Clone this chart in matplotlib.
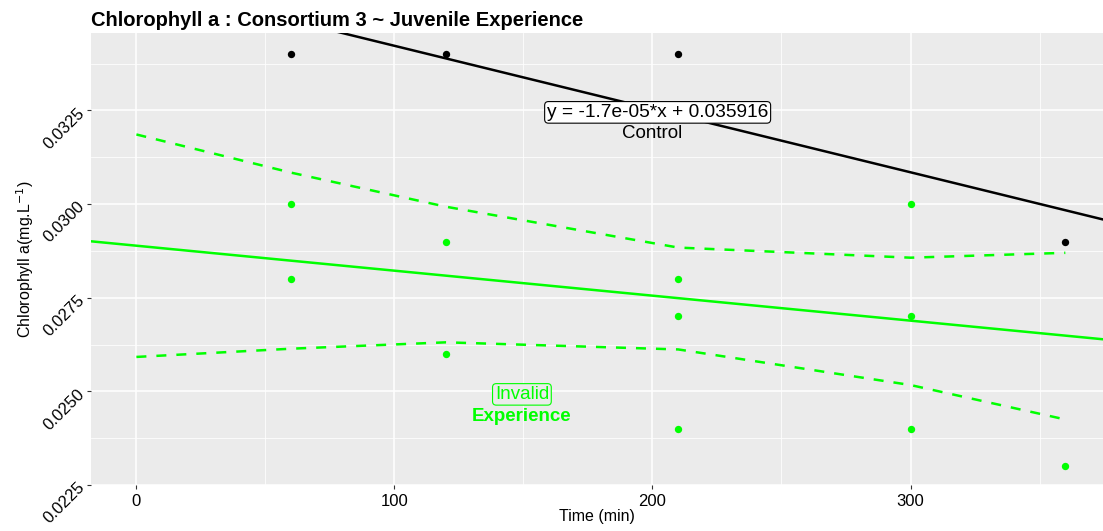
import numpy as np
import matplotlib

matplotlib.use("Agg")
import matplotlib.pyplot as plt  # noqa: E402
from matplotlib.ticker import MultipleLocator  # noqa: E402

plt.rcParams["font.family"] = ["Liberation Sans", "DejaVu Sans"]

# Control group (black)
control_time = [60, 120, 210, 360]
control_chl = [0.034, 0.034, 0.034, 0.029]

# Experience group (green)
exp_time = [60, 60, 120, 120, 210, 210, 210, 300, 300, 300, 360]
exp_chl = [0.030, 0.028, 0.029, 0.026, 0.028, 0.027, 0.024, 0.030, 0.027, 0.024, 0.023]

# Experience trend line and band
exp_intercept = 0.02889
exp_slope = -6.67e-06
band_time = [0, 60, 120, 210, 300, 360]
band_upper = [0.03186, 0.03084, 0.02993, 0.02884, 0.02857, 0.02870]
band_lower = [0.02592, 0.02614, 0.02631, 0.02612, 0.02517, 0.02425]

GREEN = "#00FF00"

fig = plt.figure(figsize=(11.03, 5.31), dpi=100)
ax = fig.add_axes([0.0825, 0.0866, 0.9175, 0.8513])
ax.set_facecolor("#EBEBEB")

xlim = (-17.6, 374.6)
ylim = (0.0225, 0.03457)

# Control fit
slope_c, icpt_c = np.polyfit(control_time, control_chl, 1)
xs = np.array(xlim)
ax.plot(xs, icpt_c + slope_c * xs, color="black", lw=1.8, zorder=3)

# Experience fit + band
ax.plot(xs, exp_intercept + exp_slope * xs, color=GREEN, lw=1.8, zorder=3)
ax.plot(band_time, band_upper, color=GREEN, lw=1.8, dashes=(4, 4), zorder=3)
ax.plot(band_time, band_lower, color=GREEN, lw=1.8, dashes=(4, 4), zorder=3)

ax.scatter(control_time, control_chl, s=28, color="black", zorder=4, linewidths=0)
ax.scatter(exp_time, exp_chl, s=28, color=GREEN, zorder=4, linewidths=0)

# annotations
eq = f"y = {slope_c:.1e}*x + {icpt_c:.6f}"
ax.text(202, 0.03245, eq, ha="center", va="center", fontsize=13.8, zorder=5,
        bbox=dict(boxstyle="round,pad=0.12,rounding_size=0.2", fc="white", ec="black", lw=0.8))
ax.text(200, 0.03188, "Control", ha="center", va="center", fontsize=13.5, color="black", zorder=5)
ax.text(149.4, 0.02492, "Invalid", ha="center", va="center", fontsize=13.5, color=GREEN, zorder=5,
        bbox=dict(boxstyle="round,pad=0.12,rounding_size=0.2", fc="#EBEBEB", ec=GREEN, lw=0.8))
ax.text(149.4, 0.02433, "Experience", ha="center", va="center", fontsize=13.5, color=GREEN,
        fontweight="bold", zorder=5)

ax.set_xlim(*xlim)
ax.set_ylim(*ylim)
ax.xaxis.set_major_locator(MultipleLocator(100))
ax.xaxis.set_minor_locator(MultipleLocator(50))
ax.yaxis.set_major_locator(MultipleLocator(0.0025))
ax.yaxis.set_minor_locator(MultipleLocator(0.00125))
ax.yaxis.set_major_formatter(plt.FuncFormatter(lambda v, p: f"{v:.4f}"))

ax.grid(which="major", color="white", lw=1.1)
ax.grid(which="minor", color="white", lw=0.55)
ax.set_axisbelow(True)
for s in ax.spines.values():
    s.set_visible(False)

ax.tick_params(which="major", length=3, width=0.8, color="#333333", labelsize=12, labelcolor="black")
ax.tick_params(which="minor", length=0)
plt.setp(ax.get_yticklabels(), rotation=45, ha="right", va="center", rotation_mode="anchor")

ax.set_xlabel("Time (min)", fontsize=11.5, labelpad=0)
ax.set_ylabel(r"Chlorophyll a(mg.L$^{-1}$)", fontsize=11.5, labelpad=3)
ax.set_title("Chlorophyll a : Consortium 3 ~ Juvenile Experience", loc="left",
             fontsize=14.5, fontweight="bold", pad=5)

fig.savefig("out.png", dpi=100)
